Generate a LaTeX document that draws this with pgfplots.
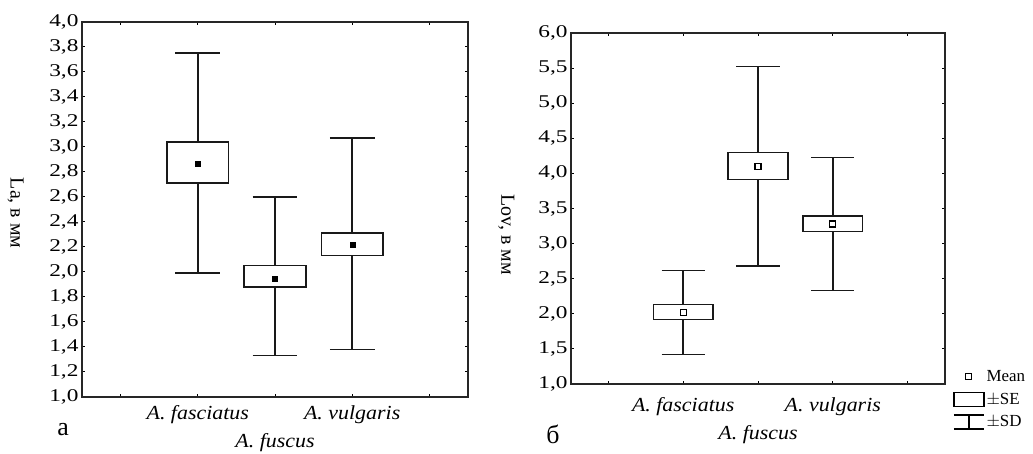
\documentclass[border=0pt]{standalone}
\usepackage{pgfplots}
\pgfplotsset{compat=1.18}
\usepgfplotslibrary{statistics}
\usepackage{fontspec}
\setmainfont{Liberation Serif}
\newfontfamily\tickfont{Liberation Serif}[FakeStretch=1.3]
\newfontfamily\catfont{Liberation Serif}[FakeStretch=1.1]

\begin{document}
\begin{tikzpicture}
\useasboundingbox (0bp,0bp) rectangle (1033bp,454bp);
\pgfplotsset{
  panel/.style={
    scale only axis, xmin=-0.5, xmax=4.5, xtick={0,1,2,3,4},
    xticklabels={,{A. fasciatus},{\strut\\A. fuscus},{A. vulgaris},},
    xticklabel style={font=\catfont\itshape\fontsize{20}{25}\selectfont, align=center},
    yticklabel style={font=\tickfont\fontsize{18}{18}\selectfont},
    /pgf/number format/.cd, fixed, fixed zerofill, precision=1, use comma, assume math mode=true, /pgfplots/.cd,
    axis line style={line width=1.6bp, black!85},
    tick style={line width=1bp, black}, major tick length=3bp, tick align=inside, tick pos=both,
    ylabel style={font=\fontsize{20}{20}\selectfont, rotate=180},
  },
  bx/.style={black!90, line width=1.5bp, forget plot, boxplot/draw direction=y, boxplot/whisker extend=0.58, boxplot/box extend=0.8},
}
% ---------- panel a ----------
\begin{axis}[panel, at={(82bp,57bp)}, anchor=south west, width=386bp, height=375bp,
  xticklabel style={yshift=-5bp},
  ymin=1, ymax=4, ytick={1,1.2,1.4,1.6,1.8,2,2.2,2.4,2.6,2.8,3,3.2,3.4,3.6,3.8,4},
  ylabel={La, в мм}, every axis y label/.append style={at={(axis description cs:-0.142,0.49)}}]
\addplot[bx, boxplot prepared={draw position=1, lower whisker=1.99, lower quartile=2.71, median=2.71, upper quartile=3.04, upper whisker=3.75}] coordinates {};
\addplot[bx, boxplot prepared={draw position=2, lower whisker=1.33, lower quartile=1.88, median=1.88, upper quartile=2.05, upper whisker=2.60}] coordinates {};
\addplot[bx, boxplot prepared={draw position=3, lower whisker=1.38, lower quartile=2.13, median=2.13, upper quartile=2.31, upper whisker=3.07}] coordinates {};
\addplot[forget plot, only marks, mark=square*, mark size=2.5bp, black] coordinates {(1,2.87) (2,1.95) (3,2.22)};
\end{axis}
% ---------- panel b ----------
\begin{axis}[panel, at={(571bp,70bp)}, anchor=south west, width=374bp, height=351bp,
  xticklabel style={yshift=-10bp},
  ymin=1, ymax=6, ytick={1,1.5,2,2.5,3,3.5,4,4.5,5,5.5,6},
  ylabel={Lov, в мм}, every axis y label/.append style={at={(axis description cs:-0.142,0.425)}},
  legend cell align=left,
  legend style={at={(1.021,0.045)}, anchor=north west, draw=none, fill=none,
    font=\fontsize{17}{17}\selectfont, inner sep=0pt, row sep=6bp,
    /tikz/every even column/.append style={column sep=4bp}}]
\addplot[bx, boxplot prepared={draw position=1, lower whisker=1.42, lower quartile=1.92, median=1.92, upper quartile=2.13, upper whisker=2.62}] coordinates {};
\addplot[bx, boxplot prepared={draw position=2, lower whisker=2.68, lower quartile=3.91, median=3.91, upper quartile=4.30, upper whisker=5.52}] coordinates {};
\addplot[bx, boxplot prepared={draw position=3, lower whisker=2.33, lower quartile=3.17, median=3.17, upper quartile=3.39, upper whisker=4.23}] coordinates {};
\addplot[forget plot, only marks, mark=square, mark size=3bp, black, mark options={line width=1.2bp, fill=white}] coordinates {(1,2.02) (2,4.10) (3,3.28)};
\addlegendimage{legend image code/.code={\path[draw=none,fill=none] (0bp,-7bp) rectangle (30bp,7bp); \draw[line width=1.2bp, fill=white] (12bp,-3bp) rectangle (18bp,3bp);}}
\addlegendentry{Mean}
\addlegendimage{legend image code/.code={\path[draw=none,fill=none] (0bp,-7bp) rectangle (30bp,7bp); \draw[line width=1.5bp] (0bp,-7bp) rectangle (30bp,7bp);}}
\addlegendentry{$\pm$SE}
\addlegendimage{legend image code/.code={\path[draw=none,fill=none] (0bp,-7bp) rectangle (30bp,7bp); \draw[line width=1.5bp] (0bp,7bp) -- (30bp,7bp) (15bp,7bp) -- (15bp,-7bp) (0bp,-7bp) -- (30bp,-7bp);}}
\addlegendentry{$\pm$SD}
\end{axis}
\node[font=\fontsize{26}{26}\selectfont] at (63bp,24bp) {а};
\node[font=\fontsize{26}{26}\selectfont] at (553bp,20bp) {б};
\end{tikzpicture}
\end{document}
